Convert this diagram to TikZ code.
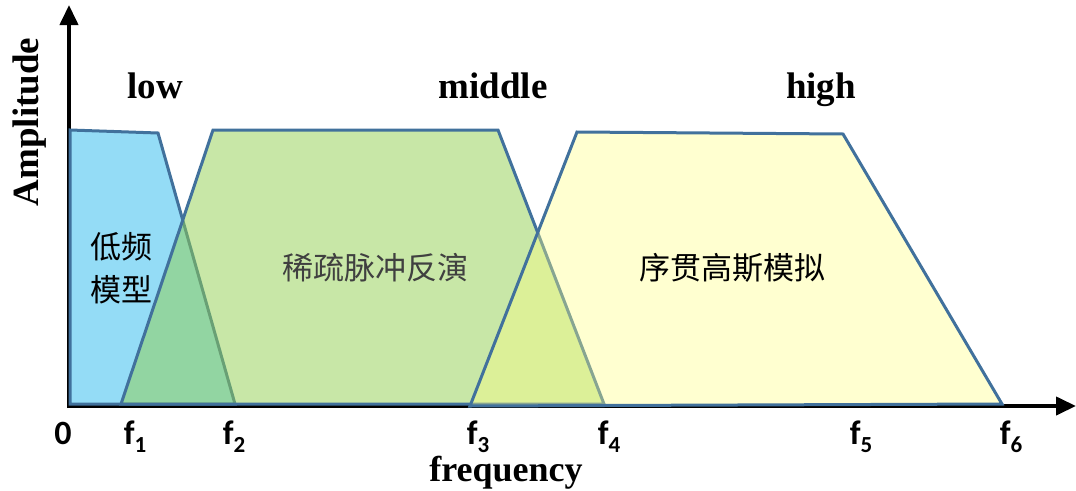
\documentclass[tikz,border=0pt]{standalone}
\usepackage{fontspec}
\setmainfont{Liberation Serif}
\newfontfamily\cjk{Noto Sans CJK SC}
\newfontfamily\calfont{Carlito}
\usetikzlibrary{arrows.meta}
\definecolor{lineblue}{HTML}{41719C}
\definecolor{fillblue}{HTML}{94DCF6}
\definecolor{fillgreen}{HTML}{92D050}
\definecolor{fillyellow}{HTML}{FFFF80}
\tikzset{
  axis/.style={line width=4pt, black, -{Triangle[length=20pt,width=18pt]}},
  poly/.style={draw=lineblue, line width=3pt, line join=miter},
  band/.style={font=\fontsize{37}{37}\selectfont\bfseries, inner sep=0pt},
  tick/.style={font=\calfont\fontsize{34}{34}\selectfont\bfseries, inner sep=0pt, anchor=base},
  cn/.style={font=\cjk\fontsize{31}{43}\selectfont, inner sep=0pt, align=center}
}
\newcommand{\fsub}[1]{f\raisebox{-8pt}{\fontsize{23}{23}\selectfont #1}}
\begin{document}
\begin{tikzpicture}[x=1pt,y=-1pt]
\useasboundingbox (0,0) rectangle (1076,490);
% axes
\coordinate (ybot) at (69,408);
\coordinate (ytop) at (69,5);
\coordinate (xbeg) at (67,406);
\coordinate (xend) at (1076,406);
\draw[axis] (ybot) -- (ytop);
\draw[axis] (xbeg) -- (xend);
% bands
\draw[poly, fill=fillblue] (70,130) -- (158,133) -- (235,404) -- (70,404) -- cycle;
\draw[poly, fill=fillgreen, fill opacity=0.5] (121,404) -- (213,130) -- (498,130) -- (604,404) -- cycle;
\draw[poly, fill=fillyellow, fill opacity=0.37] (470,406) -- (577,132) -- (843,134) -- (1002,404) -- cycle;
% band labels
\node[band, anchor=base] (low) at (155,98) {low};
\node[band, anchor=base] (middle) at (493,98) {middle};
\node[band, anchor=base] (high) at (821,98) {high};
\node[band, rotate=90] (amp) at (30,122) {Amplitude};
\node[band, anchor=base, font=\fontsize{36}{36}\selectfont\bfseries] (freq) at (506,481) {frequency};
% ticks
\node[tick] (t0) at (63,444) {0};
\node[tick] (t1) at (135,444) {\fsub{1}};
\node[tick] (t2) at (234,444) {\fsub{2}};
\node[tick] (t3) at (478,444) {\fsub{3}};
\node[tick] (t4) at (609,444) {\fsub{4}};
\node[tick] (t5) at (861,444) {\fsub{5}};
\node[tick] (t6) at (1011,444) {\fsub{6}};
% chinese labels
\node[cn] (lowm) at (121,268) {低频\\模型};
\node[cn, text=black!75] (spi) at (375,268) {稀疏脉冲反演};
\node[cn] (sgs) at (732,268) {序贯高斯模拟};
\end{tikzpicture}
\end{document}
